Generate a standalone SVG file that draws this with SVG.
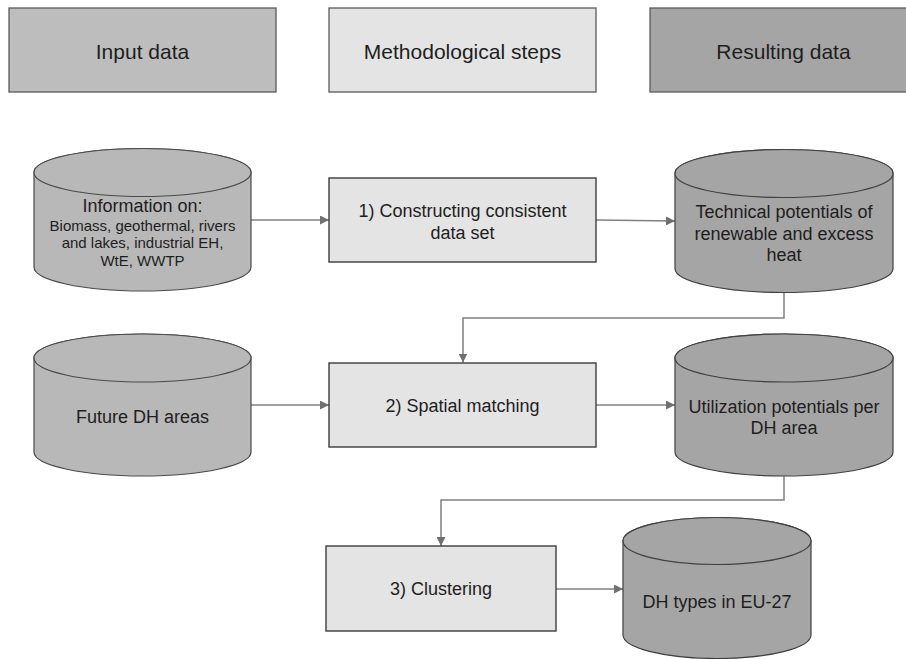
<svg xmlns="http://www.w3.org/2000/svg" width="906" height="659" viewBox="0 0 906 659">
<style>
text{font-family:"Liberation Sans",Arial,sans-serif;fill:#1e1e1e;text-anchor:middle}
.hdr{stroke:#5a5a5a;stroke-width:1.3}
.step{fill:#e4e4e4;stroke:#3c3c3c;stroke-width:1.4}
.cin{fill:#b8b8b8;stroke:#4a4a4a;stroke-width:1.2}
.cout{fill:#a5a5a5;stroke:#404040;stroke-width:1.2}
.conn{fill:none;stroke:#808080;stroke-width:1.5}
.t18{font-size:18px}
.t15{font-size:15px}
.t21{font-size:21px}
</style>
<defs>
<marker id="ah" markerUnits="userSpaceOnUse" markerWidth="9" markerHeight="9" refX="9" refY="4.5" orient="auto">
<path d="M0,0 L9,4.5 L0,9 z" fill="#707070"/>
</marker>
</defs>
<rect width="906" height="659" fill="#ffffff"/>

<g id="header-input">
<rect class="hdr" x="9" y="8" width="267" height="84" fill="#bdbdbd"/>
<text class="t21" x="142.5" y="59">Input data</text>
</g>
<g id="header-methods">
<rect class="hdr" x="329" y="8" width="267" height="84" fill="#e4e4e4"/>
<text class="t21" x="462.5" y="59">Methodological steps</text>
</g>
<g id="header-results">
<rect class="hdr" x="650" y="8" width="267" height="84" fill="#a5a5a5"/>
<text class="t21" x="783.5" y="59">Resulting data</text>
</g>

<g id="connectors">
<line class="conn" x1="251" y1="220" x2="329" y2="220" marker-end="url(#ah)"/>
<line class="conn" x1="596" y1="220" x2="675" y2="221" marker-end="url(#ah)"/>
<path class="conn" d="M784,292.5 V318 H463 V362.5" marker-end="url(#ah)"/>
<line class="conn" x1="251" y1="405" x2="329" y2="405" marker-end="url(#ah)"/>
<line class="conn" x1="596" y1="405" x2="675" y2="405" marker-end="url(#ah)"/>
<path class="conn" d="M784,476 V500 H441 V546" marker-end="url(#ah)"/>
<line class="conn" x1="556" y1="589" x2="623" y2="589" marker-end="url(#ah)"/>
</g>

<g id="input-information">
<path class="cin" d="M34,172.5 V267 A108.5,24 0 0 0 251,267 V172.5 A108.5,24 0 0 0 34,172.5 Z"/>
<ellipse class="cin" cx="142.5" cy="172.5" rx="108.5" ry="24"/>
<text class="t18" x="142.5" y="211.5">Information on:</text>
<text class="t15" x="142.5" y="230.5">Biomass, geothermal, rivers</text>
<text class="t15" x="142.5" y="248.3">and lakes, industrial EH,</text>
<text class="t15" x="142.5" y="266">WtE, WWTP</text>
</g>

<g id="step1">
<rect class="step" x="329" y="178" width="267" height="84"/>
<text class="t18" x="462.5" y="217.3">1) Constructing consistent</text>
<text class="t18" x="462.5" y="238.5">data set</text>
</g>

<g id="result-technical">
<path class="cout" d="M675,173.5 V268.5 A109,24 0 0 0 893,268.5 V173.5 A109,24 0 0 0 675,173.5 Z"/>
<ellipse class="cout" cx="784" cy="173.5" rx="109" ry="24"/>
<text class="t18" x="784" y="218.3">Technical potentials of</text>
<text class="t18" x="784" y="239.5">renewable and excess</text>
<text class="t18" x="784" y="260.7">heat</text>
</g>

<g id="input-dh-areas">
<path class="cin" d="M34,358 V452 A108.5,24 0 0 0 251,452 V358 A108.5,24 0 0 0 34,358 Z"/>
<ellipse class="cin" cx="142.5" cy="358" rx="108.5" ry="24"/>
<text class="t18" x="142.5" y="423.3">Future DH areas</text>
</g>

<g id="step2">
<rect class="step" x="329" y="363" width="267" height="84"/>
<text class="t18" x="462.5" y="411.7">2) Spatial matching</text>
</g>

<g id="result-utilization">
<path class="cout" d="M675,358 V452 A109,24 0 0 0 893,452 V358 A109,24 0 0 0 675,358 Z"/>
<ellipse class="cout" cx="784" cy="358" rx="109" ry="24"/>
<text class="t18" x="784" y="413.3">Utilization potentials per</text>
<text class="t18" x="784" y="434.3">DH area</text>
</g>

<g id="step3">
<rect class="step" x="326" y="546" width="230" height="85"/>
<text class="t18" x="441" y="595">3) Clustering</text>
</g>

<g id="result-dh-types">
<path class="cout" d="M623,541 V635 A94,23.5 0 0 0 811,635 V541 A94,23.5 0 0 0 623,541 Z"/>
<ellipse class="cout" cx="717" cy="541" rx="94" ry="23.5"/>
<text class="t18" x="717" y="608.3">DH types in EU-27</text>
</g>
</svg>
